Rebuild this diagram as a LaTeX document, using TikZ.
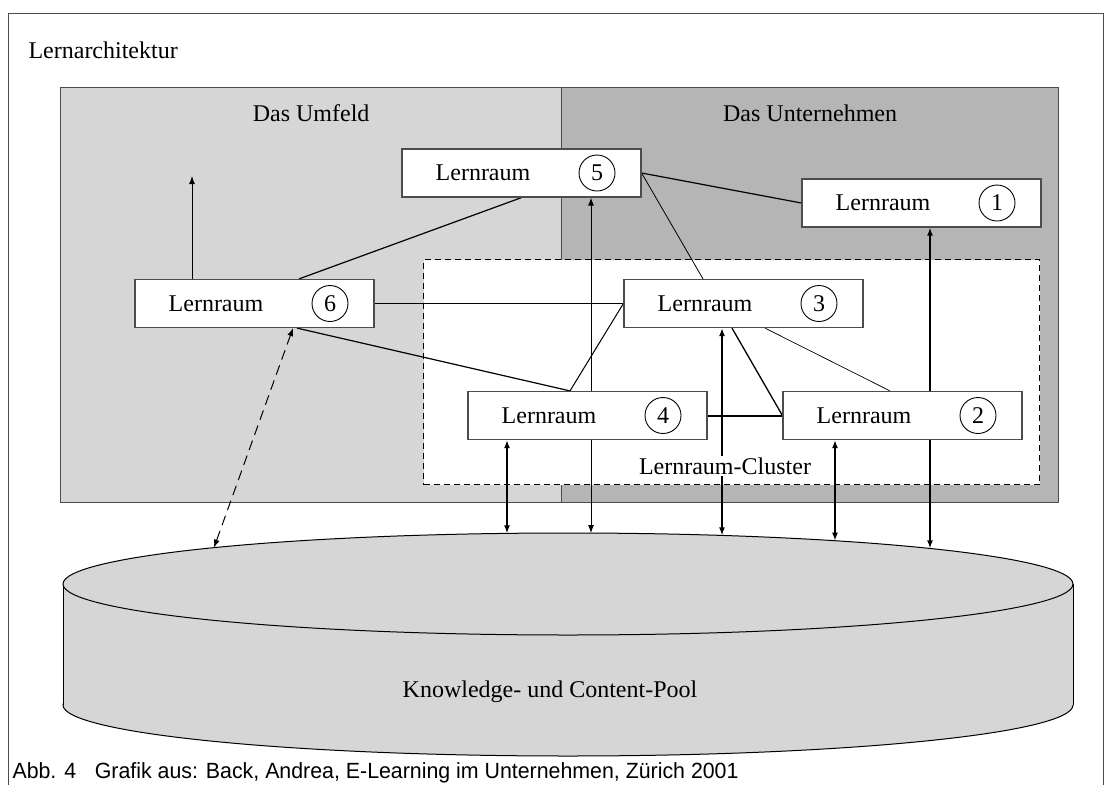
\documentclass[tikz,border=0pt]{standalone}
\usepackage{fontspec}
\setmainfont{Liberation Serif}
\newfontfamily\abbfont[FakeStretch=0.97]{Liberation Sans}
\usetikzlibrary{arrows.meta,positioning,shapes.geometric}

\definecolor{umfeldgrau}{gray}{0.84}
\definecolor{firmengrau}{gray}{0.71}
\definecolor{randgrau}{gray}{0.3}

\pgfdeclarelayer{grund}
\pgfdeclarelayer{linien}
\pgfsetlayers{grund,linien,main}

\tikzset{
  raum/.style={draw=randgrau,line width=1.2pt,fill=white,rectangle,minimum width=239pt,minimum height=48pt,inner sep=0pt},
  nummer/.style={draw,circle,line width=0.9pt,minimum size=36pt,inner sep=0pt},
  bereich/.style={draw=randgrau,line width=1.2pt,rectangle,anchor=north west,inner sep=0pt,minimum height=415pt},
  >={Latex[length=8pt,width=6pt]}
}

\begin{document}
\begin{tikzpicture}[x=1pt,y=-1pt,font=\fontsize{24}{28}\selectfont]
\useasboundingbox (0,0) rectangle (1104,785);

\draw[line width=1pt,randgrau] (8,800) -- (8,13) -- (1103,13) -- (1103,800);
\node[anchor=west] (titel) at (25,50) {Lernarchitektur};

% Lernraeume
\node[raum] (r5) at (521.5,173) {};
\node (t5) at ([xshift=-38.5pt]r5.center) {Lernraum};
\node[nummer] (n5) at ([xshift=75.5pt]r5.center) {5};

\node[raum] (r1) at (921.5,203) {};
\node (t1) at ([xshift=-38.5pt]r1.center) {Lernraum};
\node[nummer] (n1) at ([xshift=75.5pt]r1.center) {1};

\node[raum] (r6) at (254.5,303.5) {};
\node (t6) at ([xshift=-38.5pt]r6.center) {Lernraum};
\node[nummer] (n6) at ([xshift=75.5pt]r6.center) {6};

\node[raum] (r3) at (743.5,303.5) {};
\node (t3) at ([xshift=-38.5pt]r3.center) {Lernraum};
\node[nummer] (n3) at ([xshift=75.5pt]r3.center) {3};

\node[raum] (r4) at (587.5,415.5) {};
\node (t4) at ([xshift=-38.5pt]r4.center) {Lernraum};
\node[nummer] (n4) at ([xshift=75.5pt]r4.center) {4};

\node[raum] (r2) at (902.5,415.5) {};
\node (t2) at ([xshift=-38.5pt]r2.center) {Lernraum};
\node[nummer] (n2) at ([xshift=75.5pt]r2.center) {2};

\node[fill=white,inner sep=2pt] (clustertext) at (725,466) {Lernraum-Cluster};

\node[anchor=west,font=\abbfont\fontsize{22}{25}\selectfont] (quelle) at (9,773) {Abb. 4\hspace{0.85em}Grafik aus: Back, Andrea, E-Learning im Unternehmen, Zürich 2001};

\begin{pgfonlayer}{grund}
\node[bereich,fill=umfeldgrau,minimum width=501pt] (umfeld) at (60,87) {};
\node[bereich,fill=firmengrau,minimum width=497pt] (firma) at (561,87) {};
\node (umfeldtext) at ([yshift=-26pt]umfeld.north) {Das Umfeld};
\node (firmatext) at ([yshift=-26pt]firma.north) {Das Unternehmen};

\node[draw,dash pattern=on 6pt off 4pt,line width=1pt,fill=white,rectangle,anchor=north west,inner sep=0pt,minimum width=616pt,minimum height=225pt] (cluster) at (423,259) {};

% Pool
\draw[line width=1pt,fill=umfeldgrau] (568,705) ellipse [x radius=505,y radius=51];
\fill[umfeldgrau] (63,584) rectangle (1073,705);
\draw[line width=1pt] (63,584) -- (63,705) (1073,584) -- (1073,705);
\node[draw,ellipse,line width=1pt,fill=umfeldgrau,minimum width=1010pt,minimum height=102pt,inner sep=0pt] (pool) at (568,584) {};
\node (pooltext) at (550,692) {Knowledge- und Content-Pool};
\end{pgfonlayer}

\coordinate (p6) at (214,547.6);
\coordinate (p4) at (507,533.4);
\coordinate (p5) at (591,533.1);
\coordinate (p3) at (722,535.4);
\coordinate (p2) at (835,540.7);
\coordinate (p1) at (930,548.4);
\coordinate (oben) at (192,176);

\begin{pgfonlayer}{linien}
\draw[->,line width=1pt] (r6.north -| oben) -- (oben);
\draw[line width=1.2pt] ([xshift=44.5pt]r6.north) -- (r5.south);
\draw[line width=1.2pt] (r6.east) -- (r3.west);
\draw[line width=1.2pt] ([xshift=42.5pt]r6.south) -- ([xshift=-17.5pt]r4.north);
\draw[line width=1pt] ([xshift=-17.5pt]r4.north) -- (r3.west);
\draw[line width=1.2pt] (r5.east) -- (r1.west);
\draw[line width=0.8pt] (r5.east) -- ([xshift=-40.5pt]r3.north);
\draw[line width=1.3pt] ([xshift=-11.5pt]r3.south) -- (r2.west);
\draw[line width=0.7pt] ([xshift=21.5pt]r3.south) -- ([xshift=-12.5pt]r2.north);
\draw[line width=2pt] (r4.east) -- (r2.west);

\draw[<->,line width=2pt] (r4.south -| p4) -- (p4);
\draw[<->,line width=1pt] (r5.south -| p5) -- (p5);
\draw[<->,line width=2pt] (r3.south -| p3) -- (p3);
\draw[<->,line width=2pt] (r2.south -| p2) -- (p2);
\draw[<->,line width=2pt] (r1.south -| p1) -- (p1);
\draw[<->,line width=1pt,dash pattern=on 10pt off 6pt] ([xshift=38.5pt]r6.south) -- (p6);
\end{pgfonlayer}
\end{tikzpicture}
\end{document}
